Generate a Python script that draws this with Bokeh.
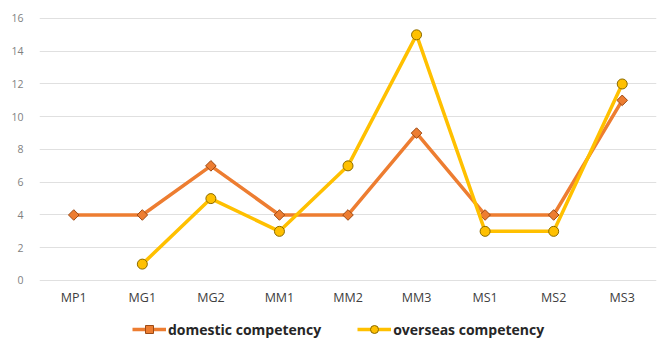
import numpy as np
from bokeh.plotting import figure
from bokeh.models import Legend, LegendItem, FixedTicker, Range1d
from bokeh.core.properties import value
from bokeh.embed import file_html
from bokeh.resources import INLINE

categories = ["MP1", "MG1", "MG2", "MM1", "MM2", "MM3", "MS1", "MS2", "MS3"]
domestic = [4, 4, 7, 4, 4, 9, 4, 4, 11]
overseas = [np.nan, 1, 5, 3, 7, 15, 3, 3, 12]
y_ticks = [0, 2, 4, 6, 8, 10, 12, 14, 16]

FONT = "Open Sans"

p = figure(x_range=categories, y_range=Range1d(-3.97, 16.12), width=662, height=347,
           output_backend="svg", toolbar_location=None,
           min_border_left=39, min_border_right=6, min_border_top=16, min_border_bottom=2)
p.outline_line_color = None
p.background_fill_color = "white"
p.border_fill_color = "white"

p.xgrid.grid_line_color = None
p.ygrid.grid_line_color = "#e0e0e0"
p.ygrid.grid_line_width = 1
p.xaxis.visible = False

p.yaxis.ticker = FixedTicker(ticks=y_ticks)
p.yaxis.axis_line_color = None
p.yaxis.major_tick_line_color = None
p.yaxis.minor_tick_line_color = None
p.yaxis.major_label_text_color = "#7f7f7f"
p.yaxis.major_label_text_font = FONT
p.yaxis.major_label_text_font_size = "10.5px"
p.yaxis.major_label_standoff = 10

# category labels under the zero line
p.text(x=categories, y=[0] * len(categories), text=categories, y_offset=17,
       text_align="center", text_baseline="middle", text_font=value(FONT),
       text_font_size="12.5px", text_color="#404040")

dl = p.line(categories, domestic, line_color="#ED7D31", line_width=3.5)
ds = p.scatter(categories, domestic, marker="square", angle=np.pi / 4, size=7.5,
               fill_color="#ED7D31", line_color="#9c4a15", line_width=1)
ol = p.line(categories, overseas, line_color="#FFC000", line_width=3.5)
osc = p.scatter(categories, overseas, marker="circle", size=10,
                fill_color="#FFC000", line_color="#8a6a00", line_width=1)

legend = Legend(items=[LegendItem(label="domestic competency", renderers=[dl, ds]),
                       LegendItem(label="overseas competency", renderers=[ol, osc])],
                orientation="horizontal", location=(93, 6))
legend.label_text_font = FONT
legend.label_text_font_style = "bold"
legend.label_text_font_size = "14px"
legend.label_text_color = "#262626"
legend.border_line_color = None
legend.background_fill_alpha = 0
legend.glyph_width = 34
legend.label_standoff = 2
legend.spacing = 36
legend.margin = 0
legend.padding = 4
p.add_layout(legend, "center")

open("out.html", "w").write(file_html(p, INLINE))
